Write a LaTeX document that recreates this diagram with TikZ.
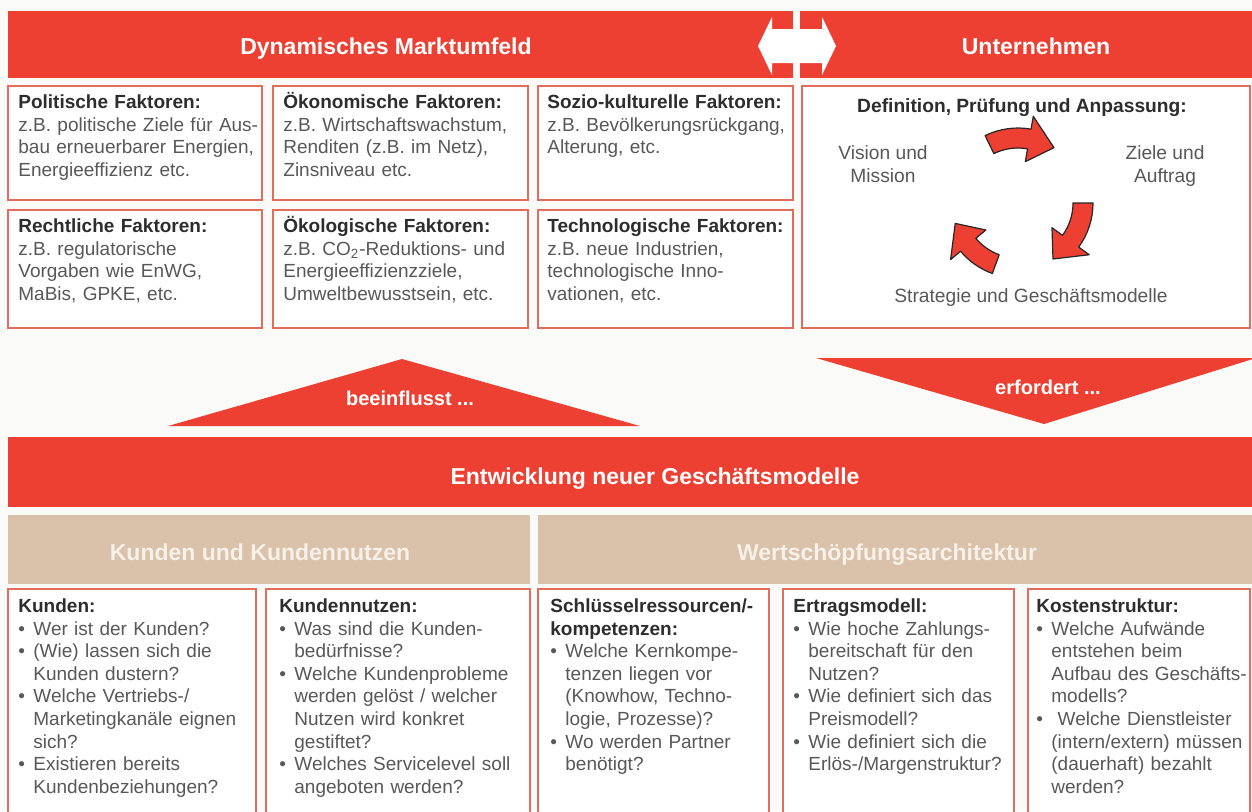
\documentclass[tikz,border=0pt]{standalone}
\usepackage{fontspec}
\setmainfont{Liberation Sans}
\usetikzlibrary{calc}
\setlength{\parindent}{0pt}

\definecolor{bandred}{RGB}{238,64,50}
\definecolor{boxred}{RGB}{228,108,92}
\definecolor{sand}{RGB}{217,193,170}
\definecolor{sandtext}{RGB}{248,241,233}
\definecolor{ink}{RGB}{88,88,88}
\definecolor{headink}{RGB}{45,45,45}
\definecolor{paper}{RGB}{250,250,249}

\tikzset{
  band/.style={fill=bandred},
  sandband/.style={fill=sand},
  frame/.style={draw=boxred, line width=0.7pt, fill=white},
  bandtext/.style={inner sep=0, text=white, font=\fontsize{11.5}{14}\selectfont\bfseries},
  boxtext/.style={anchor=north west, inner sep=0, text=ink, align=left,
    font=\fontsize{9.5}{11.3}\selectfont, execute at begin node={\rule{0pt}{9pt}}},
  plaintext/.style={inner sep=0, text=ink, align=center, font=\fontsize{9.6}{11.3}\selectfont},
  cyclearrow/.style={fill=bandred, draw=black!85, line width=0.6pt, line join=round},
}

% box heading and bullet with hanging lines
\newcommand{\hd}[1]{\textcolor{headink}{\bfseries #1}}
\newcommand{\bp}[1]{\par\noindent\makebox[7.5pt][l]{•}%
  \parbox[t]{\dimexpr\hsize-7.5pt\relax}{\raggedright #1\strut}\par\prevdepth=\dp\strutbox}

% curved block arrow round (cyc): start angle, head angle, tip angle
\newcommand{\turnarrow}[3]{%
  \draw[cyclearrow] ($(cyc)+(#1:75)$) arc[start angle=#1, end angle=#2, radius=75]
    -- ($(cyc)+(#2:88)$) -- ($(cyc)+(#3:66)$) -- ($(cyc)+(#2:42)$)
    -- ($(cyc)+(#2:55)$) arc[start angle=#2, end angle=#1, radius=55] -- cycle;}

\begin{document}
\begin{tikzpicture}[x=0.5pt, y=-0.5pt]
\useasboundingbox (0,0) rectangle (1252,811);
\fill[paper] (0,0) rectangle (1252,811);

% top bands
\fill[band] (8,11) rectangle (793,78);
\fill[band] (800,11) rectangle (1254,78);
\fill[white] (758,46) -- (772,17) -- (772,29) -- (822,29) -- (822,17) -- (836,46)
  -- (822,75) -- (822,63) -- (772,63) -- (772,75) -- cycle;
\node[bandtext, anchor=base] (markt) at (386,54) {Dynamisches Marktumfeld};
\node[bandtext, anchor=base] (unt) at (1036,54) {Unternehmen};

% factor boxes
\draw[frame] (8,86) rectangle (262,200);
\draw[frame] (273,86) rectangle (528,200);
\draw[frame] (538,86) rectangle (793,200);
\draw[frame] (8,210) rectangle (262,328);
\draw[frame] (273,210) rectangle (528,328);
\draw[frame] (538,210) rectangle (793,328);

\node[boxtext, text width=124pt] (polit) at (18,90)
  {\hd{Politische Faktoren:}\\z.B. politische Ziele für Aus-\\bau erneuerbarer Energien,\\Energieeffizienz etc.};
\node[boxtext, text width=124pt] (oekon) at (283,90)
  {\hd{Ökonomische Faktoren:}\\z.B. Wirtschaftswachstum,\\Renditen (z.B. im Netz),\\Zinsniveau etc.};
\node[boxtext, text width=124pt] (sozio) at (547,90)
  {\hd{Sozio-kulturelle Faktoren:}\\z.B. Bevölkerungsrückgang,\\Alterung, etc.};
\node[boxtext, text width=124pt] (recht) at (18,214)
  {\hd{Rechtliche Faktoren:}\\z.B. regulatorische\\Vorgaben wie EnWG,\\MaBis, GPKE, etc.};
\node[boxtext, text width=124pt] (oekol) at (283,214)
  {\hd{Ökologische Faktoren:}\\z.B. CO\textsubscript{2}-Reduktions- und\\Energieeffizienzziele,\\Umweltbewusstsein, etc.};
\node[boxtext, text width=124pt] (techn) at (547,214)
  {\hd{Technologische Faktoren:}\\z.B. neue Industrien,\\technologische Inno-\\vationen, etc.};

% company box with cycle
\draw[frame] (802,86) rectangle (1250,328);
\node[plaintext, anchor=base, text=headink, font=\fontsize{9.6}{11.3}\selectfont\bfseries] (defi) at (1022,112)
  {Definition, Prüfung und Anpassung:};
\node[plaintext, anchor=base] (vision) at (883,159) {Vision und};
\node[plaintext, anchor=base] (mission) at (883,182) {Mission};
\node[plaintext, anchor=base] (ziele) at (1165,159) {Ziele und};
\node[plaintext, anchor=base] (auftrag) at (1165,182) {Auftrag};
\node[plaintext, anchor=base] (strat) at (1031,302) {Strategie und Geschäftsmodelle};
\coordinate (cyc) at (1018,203);
\turnarrow{-116}{-80}{-57}
\turnarrow{0}{36}{58}
\turnarrow{110}{140}{162}

% influence triangles
\fill[band] (168,426) -- (402,359) -- (640,426) -- cycle;
\fill[band] (816,358) -- (1256,358) -- (1044,424) -- cycle;
\node[bandtext, anchor=base, font=\fontsize{10}{12}\selectfont\bfseries] (beein) at (410,405) {beeinflusst ...};
\node[bandtext, anchor=base, font=\fontsize{10}{12}\selectfont\bfseries] (erford) at (1048,394) {erfordert ...};

% central band
\fill[band] (8,437) rectangle (1254,507);
\node[bandtext, anchor=base] (entw) at (655,484) {Entwicklung neuer Geschäftsmodelle};

% sand bands
\fill[sandband] (8,515) rectangle (530,584);
\fill[sandband] (538,515) rectangle (1254,584);
\node[bandtext, anchor=base, text=sandtext] (kunden) at (260,560) {Kunden und Kundennutzen};
\node[bandtext, anchor=base, text=sandtext] (wert) at (887,560) {Wertschöpfungsarchitektur};

% model boxes
\draw[frame] (8,589) rectangle (256,830);
\draw[frame] (266,589) rectangle (530,830);
\draw[frame] (538,589) rectangle (769,830);
\draw[frame] (783,589) rectangle (1014,830);
\draw[frame] (1028,589) rectangle (1250,830);

\node[boxtext, text width=118pt] (kd) at (18,594)
  {\hd{Kunden:}\bp{Wer ist der Kunden?}\bp{(Wie) lassen sich die\\Kunden dustern?}\bp{Welche Vertriebs-/\\Marketingkanäle eignen\\sich?}\bp{Existieren bereits\\Kundenbeziehungen?}};
\node[boxtext, text width=126pt] (kn) at (279,594)
  {\hd{Kundennutzen:}\bp{Was sind die Kunden-\\bedürfnisse?}\bp{Welche Kundenprobleme\\werden gelöst / welcher\\Nutzen wird konkret\\gestiftet?}\bp{Welches Servicelevel soll\\angeboten werden?}};
\node[boxtext, text width=112pt] (sr) at (550,594)
  {\hd{Schlüsselressourcen/-}\\\hd{kompetenzen:}\bp{Welche Kernkompe-\\tenzen liegen vor\\(Knowhow, Techno-\\logie, Prozesse)?}\bp{Wo werden Partner\\benötigt?}};
\node[boxtext, text width=112pt] (em) at (793,594)
  {\hd{Ertragsmodell:}\bp{Wie hoche Zahlungs-\\bereitschaft für den\\Nutzen?}\bp{Wie definiert sich das\\Preismodell?}\bp{Wie definiert sich die\\Erlös-/Margenstruktur?}};
\node[boxtext, text width=108pt] (ks) at (1036,594)
  {\hd{Kostenstruktur:}\bp{Welche Aufwände\\entstehen beim\\Aufbau des Geschäfts-\\modells?}\bp{\ Welche Dienstleister\\(intern/extern) müssen\\(dauerhaft) bezahlt\\werden?}};
\end{tikzpicture}
\end{document}
